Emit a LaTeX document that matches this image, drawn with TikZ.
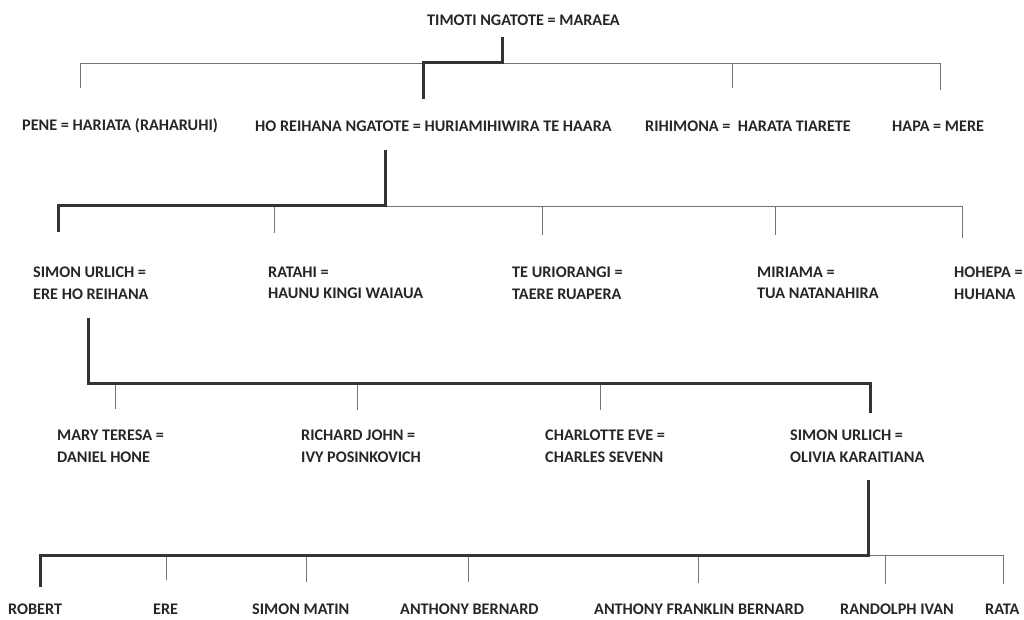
\documentclass[tikz,border=0pt]{standalone}
\usepackage{fontspec}
\setmainfont{Carlito}
\begin{document}
\begin{tikzpicture}[x=1pt, y=-1pt,
    person/.style={anchor=west, inner sep=0pt, align=left, text=black!85,
      font=\bfseries\fontsize{16.2}{21.5}\selectfont},
    thinline/.style={black!55, line width=0.9pt},
    thickline/.style={black!80, line width=3pt}]
    \useasboundingbox (0,0) rectangle (1024,620);

    % generation 0
    \node[person] (timoti) at (427,20) {TIMOTI NGATOTE = MARAEA};

    % generation 1
    \node[person] (pene) at (22,126) {PENE = HARIATA (RAHARUHI)};
    \node[person] (horeihana) at (255,126) {HO REIHANA NGATOTE = HURIAMIHIWIRA TE HAARA};
    \node[person] (rihimona) at (645,126) {RIHIMONA =\ \ HARATA TIARETE};
    \node[person] (hapa) at (892,126) {HAPA = MERE};

    % generation 2
    \node[person] (simon) at (33,283) {SIMON URLICH =\\ERE HO REIHANA};
    \node[person] (ratahi) at (268,283) {RATAHI =\\HAUNU KINGI WAIAUA};
    \node[person] (teuriorangi) at (512,283) {TE URIORANGI =\\TAERE RUAPERA};
    \node[person] (miriama) at (757,283) {MIRIAMA =\\TUA NATANAHIRA};
    \node[person] (hohepa) at (954,283) {HOHEPA =\\HUHANA};

    % generation 3
    \node[person] (mary) at (57,446) {MARY TERESA =\\DANIEL HONE};
    \node[person] (richard) at (301,446) {RICHARD JOHN =\\IVY POSINKOVICH};
    \node[person] (charlotte) at (545,446) {CHARLOTTE EVE =\\CHARLES SEVENN};
    \node[person] (simonjr) at (790,446) {SIMON URLICH =\\OLIVIA KARAITIANA};

    % generation 4
    \node[person] (robert) at (8,609) {ROBERT};
    \node[person] (ere) at (153,609) {ERE};
    \node[person] (simonmatin) at (252,609) {SIMON MATIN};
    \node[person] (anthony) at (400,609) {ANTHONY BERNARD};
    \node[person] (anthonyf) at (594,609) {ANTHONY FRANKLIN BERNARD};
    \node[person] (randolph) at (840,609) {RANDOLPH IVAN};
    \node[person] (rata) at (985,609) {RATA};

    % line ends
    \coordinate (timoti-down) at (502,37);
    \coordinate (bar0) at (502,63);
    \coordinate (pene-up) at (80,88);
    \coordinate (horeihana-up) at (423,99);
    \coordinate (rihimona-up) at (732,88);
    \coordinate (hapa-up) at (940,90);

    \coordinate (horeihana-down) at (385,150);
    \coordinate (bar1) at (385,206);
    \coordinate (simon-up) at (58,232);
    \coordinate (ratahi-up) at (274,233);
    \coordinate (teuriorangi-up) at (542,235);
    \coordinate (miriama-up) at (775,235);
    \coordinate (hohepa-up) at (962,238);

    \coordinate (simon-down) at (88,318);
    \coordinate (bar2) at (88,383);
    \coordinate (mary-up) at (115,409);
    \coordinate (richard-up) at (357,410);
    \coordinate (charlotte-up) at (600,410);
    \coordinate (simonjr-up) at (870,413);

    \coordinate (simonjr-down) at (868,480);
    \coordinate (bar3) at (868,555);
    \coordinate (robert-up) at (40,587);
    \coordinate (ere-up) at (166,580);
    \coordinate (simonmatin-up) at (306,582);
    \coordinate (anthony-up) at (468,582);
    \coordinate (anthonyf-up) at (698,583);
    \coordinate (randolph-up) at (885,584);
    \coordinate (rata-up) at (1003,584);

    % thin lines
    \draw[thinline] (pene-up) -- (pene-up |- bar0) -- (hapa-up |- bar0) -- (hapa-up);
    \draw[thinline] (rihimona-up |- bar0) -- (rihimona-up);

    \draw[thinline] (bar1) -- (hohepa-up |- bar1) -- (hohepa-up);
    \draw[thinline] (ratahi-up |- bar1) -- (ratahi-up);
    \draw[thinline] (teuriorangi-up |- bar1) -- (teuriorangi-up);
    \draw[thinline] (miriama-up |- bar1) -- (miriama-up);

    \draw[thinline] (mary-up |- bar2) -- (mary-up);
    \draw[thinline] (richard-up |- bar2) -- (richard-up);
    \draw[thinline] (charlotte-up |- bar2) -- (charlotte-up);

    \draw[thinline] (bar3) -- (rata-up |- bar3) -- (rata-up);
    \draw[thinline] (ere-up |- bar3) -- (ere-up);
    \draw[thinline] (simonmatin-up |- bar3) -- (simonmatin-up);
    \draw[thinline] (anthony-up |- bar3) -- (anthony-up);
    \draw[thinline] (anthonyf-up |- bar3) -- (anthonyf-up);
    \draw[thinline] (randolph-up |- bar3) -- (randolph-up);

    % thick lines of descent
    \draw[thickline] (timoti-down) -- (bar0) -| (horeihana-up);
    \draw[thickline] (horeihana-down) -- (bar1) -| (simon-up);
    \draw[thickline] (simon-down) -- (bar2) -| (simonjr-up);
    \draw[thickline] (simonjr-down) -- (bar3) -| (robert-up);
\end{tikzpicture}
\end{document}
